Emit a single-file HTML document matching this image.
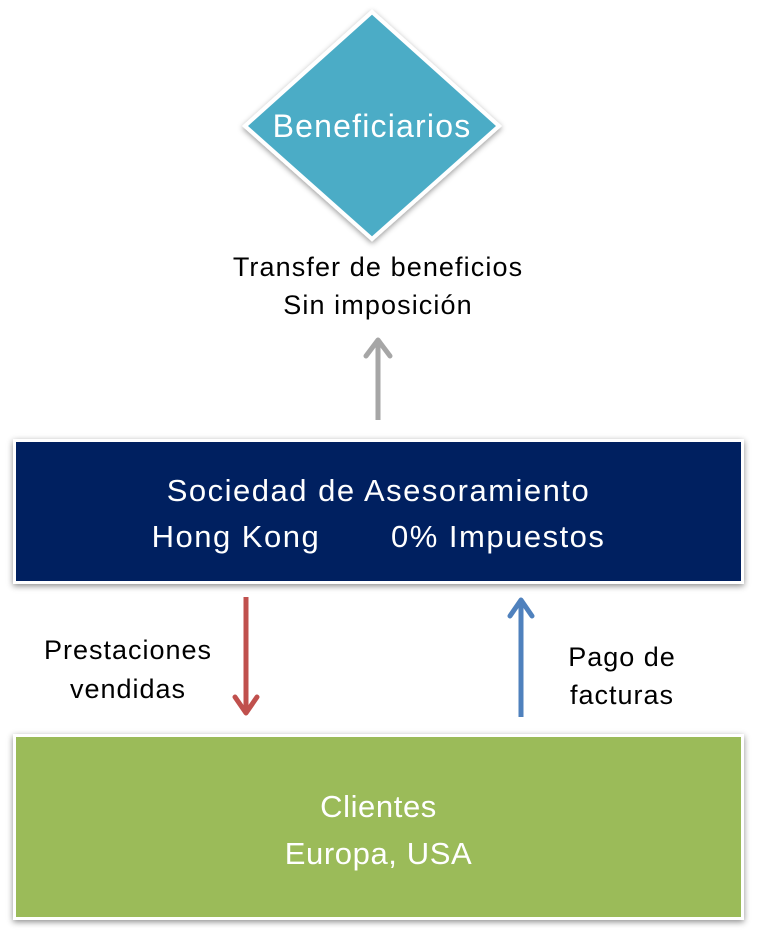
<!DOCTYPE html>
<html><head><meta charset="utf-8"><style>
body{margin:0;width:757px;height:935px;background:#fff;position:relative;overflow:hidden;font-family:"Liberation Sans",sans-serif;}
.t{position:absolute;text-align:center;white-space:nowrap;}
.box{position:absolute;left:13px;width:731px;border:3px solid #fff;box-shadow:0 2px 6px rgba(0,0,0,0.45);box-sizing:border-box;}
</style></head><body>
<svg width="757" height="935" style="position:absolute;left:0;top:0">
<defs>
<filter id="sh" x="-20%" y="-20%" width="140%" height="140%"><feDropShadow dx="0" dy="2" stdDeviation="3" flood-opacity="0.4"/></filter>
</defs>
<polygon points="372,12 499,126 372,239 245,126" fill="#4bacc6" stroke="#fff" stroke-width="4" filter="url(#sh)"/>
<line x1="378" y1="420" x2="378" y2="340" stroke="#a6a6a6" stroke-width="5"/>
<polyline points="366,356 378,340 390,356" fill="none" stroke="#a6a6a6" stroke-width="5" stroke-linejoin="round" stroke-linecap="round"/>
<line x1="246" y1="597" x2="246" y2="713" stroke="#c0504d" stroke-width="5"/>
<polyline points="235,697 246,713 257,697" fill="none" stroke="#c0504d" stroke-width="5" stroke-linejoin="round" stroke-linecap="round"/>
<line x1="521" y1="717" x2="521" y2="600" stroke="#4f81bd" stroke-width="5"/>
<polyline points="510,616 521,600 532,616" fill="none" stroke="#4f81bd" stroke-width="5" stroke-linejoin="round" stroke-linecap="round"/>
</svg>
<div class="t" style="left:245px;width:254px;top:108px;font-size:32px;letter-spacing:1.2px;color:#fff;">Beneficiarios</div>
<div class="t" style="left:128px;width:500px;top:248px;font-size:27px;letter-spacing:1.1px;line-height:38px;color:#000;">Transfer de beneficios<br>Sin imposición</div>
<div class="box" style="top:439px;height:145px;background:#002060;"></div>
<div class="t" style="left:13px;width:731px;top:468px;font-size:31px;letter-spacing:1.5px;line-height:46px;color:#fff;">Sociedad de Asesoramiento<br>Hong Kong&nbsp;&nbsp;&nbsp;&nbsp;&nbsp;&nbsp;&nbsp;0% Impuestos</div>
<div class="t" style="left:28px;width:200px;top:631px;font-size:27px;letter-spacing:1px;line-height:39px;color:#000;">Prestaciones<br>vendidas</div>
<div class="t" style="left:522px;width:200px;top:638px;font-size:27px;letter-spacing:1px;line-height:38px;color:#000;">Pago de<br>facturas</div>
<div class="box" style="top:734px;height:186px;background:#9bbb59;"></div>
<div class="t" style="left:13px;width:731px;top:783px;font-size:31px;letter-spacing:0.6px;line-height:47px;color:#fff;">Clientes<br>Europa, USA</div>
</body></html>
